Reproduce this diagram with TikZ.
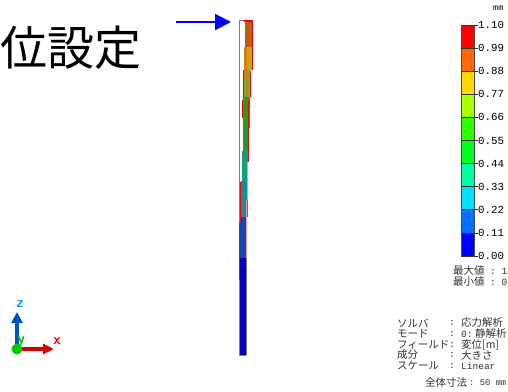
\documentclass[tikz,border=0pt]{standalone}
\usepackage{fontspec}
\setmainfont{Noto Sans CJK JP}
\setmonofont{Liberation Mono}
\usetikzlibrary{arrows.meta}
\definecolor{bandA}{HTML}{FF0000}
\definecolor{bandB}{HTML}{FF6A00}
\definecolor{bandC}{HTML}{FFD800}
\definecolor{bandD}{HTML}{AAFF00}
\definecolor{bandE}{HTML}{30FF00}
\definecolor{bandF}{HTML}{00FF20}
\definecolor{bandG}{HTML}{00FFA0}
\definecolor{bandH}{HTML}{00E0FF}
\definecolor{bandI}{HTML}{0070FF}
\definecolor{bandJ}{HTML}{0000FF}
\tikzset{
    ticklabel/.style={anchor=west, inner sep=0pt, font=\ttfamily\fontsize{10.8}{11}\selectfont},
    infolabel/.style={anchor=west, inner sep=0pt, font=\fontsize{10.5}{10.5}\selectfont, text=black!80},
    infomono/.style={anchor=west, inner sep=0pt, font=\ttfamily\fontsize{9.5}{10}\selectfont, text=black!80},
    axislabel/.style={inner sep=0pt, font=\sffamily\bfseries\fontsize{15}{15}\selectfont}
}
\begin{document}
\begin{tikzpicture}[x=1pt, y=-1pt]
    \useasboundingbox (0, 0) rectangle (508, 391);
    % heading and arrow
    \node[anchor=west, inner sep=0pt, font=\fontsize{47}{47}\selectfont] (heading) at (0, 48) {位設定};
    \coordinate (arrowstart) at (176, 22);
    \coordinate (arrowend) at (231, 22);
    \draw[-{Triangle[length=16pt, width=16pt]}, line width=2pt, color=blue] (arrowstart) -- (arrowend);
    % undeformed outline
    \draw[line width=1pt, color=gray] (246, 355) -- (239, 355) -- (239, 20) -- (246, 20);
    \draw[line width=1pt, color=gray] (246.5, 250) -- (246.5, 355);
    % deformed bar, bottom to top
    \foreach \xa/\xb/\ya/\yb/\c in {
        239.5/246/258/355/0000C0,
        239.5/246/217/258/1048B0,
        241/248/181/217/1090A0,
        242/248/151/181/10A080,
        243/248/128/151/10A040,
        243/250/97/128/20A020,
        244/251/70/97/90A020,
        244/246.5/47/80/D08010,
        246.5/252/47/70/C8A810,
        245/252/22/47/C05A10,
        244/253/20/22/F00000
    } {
        \definecolor{stripcolor}{HTML}{\c}
        \fill[color=stripcolor] (\xa, \ya) rectangle (\xb, \yb);
    }
    % red edges of the deformed bar
    \foreach \xa/\ya/\xb/\yb in {
        252.6/20/252.6/47, 252/47/252/70, 243.5/70/243.5/97, 250.5/72/250.5/97,
        242.5/100/242.5/118, 248.5/100/248.5/162,
        240.5/182/240.5/222, 239.5/223/239.5/280
    } {
        \draw[line width=0.8pt, color=red] (\xa, \ya) -- (\xb, \yb);
    }
    \draw[line width=1pt, color=red!40] (247.5, 162) -- (247.5, 200);
    \draw[line width=1pt, color=red!40] (246.8, 200) -- (246.8, 258);
    % colour bar
    \foreach \i/\c in {0/bandA, 1/bandB, 2/bandC, 3/bandD, 4/bandE, 5/bandF, 6/bandG, 7/bandH, 8/bandI, 9/bandJ} {
        \fill[color=\c] (461, 25 + \i * 23.1) rectangle (474, 25 + \i * 23.1 + 23.1);
    }
    \draw[line width=0.8pt, color=black!70] (461, 25) rectangle (474, 256);
    \foreach \i/\v in {0/1.10, 1/0.99, 2/0.88, 3/0.77, 4/0.66, 5/0.55, 6/0.44, 7/0.33, 8/0.22, 9/0.11, 10/0.00} {
        \draw[line width=0.8pt, color=black!80] (461, 25 + \i * 23.1) -- (478, 25 + \i * 23.1);
        \node[ticklabel] (tick\i) at (478, 25 + \i * 23.1) {\v};
    }
    \node[anchor=west, inner sep=0pt, font=\ttfamily\fontsize{8.5}{8.5}\selectfont] (unitlabel) at (493, 8) {mm};
    \node[infolabel] (maxname) at (453, 271) {最大値};
    \node[infomono] (maxvalue) at (490, 271) {: 1};
    \node[infolabel] (minname) at (453, 282) {最小値};
    \node[infomono] (minvalue) at (490, 282) {: 0};
    % triad
    \coordinate (origin) at (17, 349);
    \coordinate (ztip) at (17, 312);
    \coordinate (xtip) at (54, 349);
    \draw[-{Triangle[length=11pt, width=11pt]}, line width=4.5pt, color=blue!60!cyan!80!black] (origin) -- (ztip);
    \draw[-{Triangle[length=11pt, width=10pt]}, line width=4.5pt, color=red!85!black] (origin) -- (xtip);
    \fill[color=green!80!black] (origin) circle (5.5);
    \node[axislabel, text=green!75!black] (ylabel) at (21, 342) {y};
    \node[axislabel, text=blue!40!cyan] (zlabel) at (20, 304) {z};
    \node[axislabel, text=red] (xlabel) at (57, 341) {x};
    % analysis info
    \foreach \y/\a/\b in {323/ソルバ/応力解析, 334/モード/, 345/フィールド/変位[m], 355/成分/大きさ} {
        \node[infolabel] at (397, \y) {\a};
        \node[infomono] at (449, \y) {:};
        \node[infolabel] at (461, \y) {\b};
    }
    \node[infomono] (modenum) at (461, 334) {0:};
    \node[infolabel] (modename) at (475, 334) {静解析};
    \node[infolabel] (scalename) at (397, 366) {スケール};
    \node[infomono] (scalecolon) at (449, 366) {:};
    \node[infomono] (scalevalue) at (461, 366) {Linear};
    \node[infolabel] (sizename) at (425, 383) {全体寸法};
    \node[anchor=west, inner sep=0pt, font=\ttfamily\fontsize{8.8}{9}\selectfont, text=black!80] (sizevalue) at (469, 383) {: 50 mm};
\end{tikzpicture}
\end{document}
